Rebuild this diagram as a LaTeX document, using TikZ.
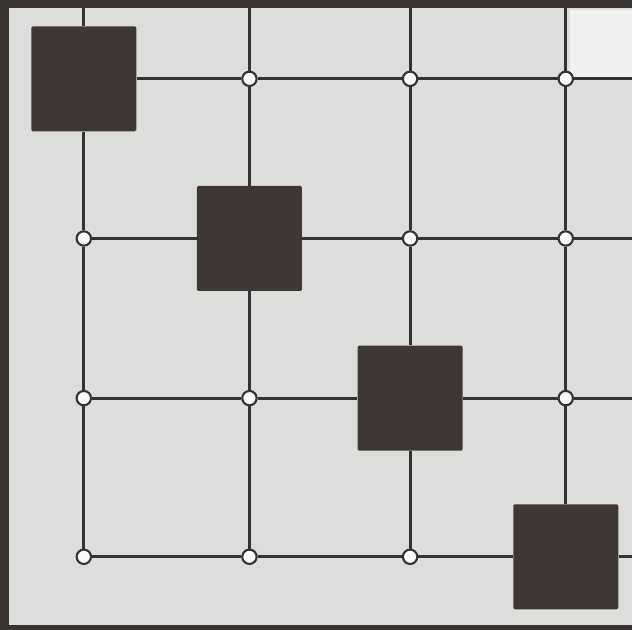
\documentclass[tikz,border=0pt]{standalone}
\definecolor{frame}{RGB}{58,52,50}
\definecolor{paper}{RGB}{221,221,219}
\definecolor{ink}{RGB}{52,50,50}
\definecolor{blockfill}{RGB}{63,55,53}
\usepackage{xcolor}
\usepackage{tikz}
\usetikzlibrary{positioning}

\begin{document}
\begin{tikzpicture}[
  x=0.025cm, y=-0.025cm,
  grid/.style={draw=ink, line width=2pt},
  blk/.style={rectangle, fill=blockfill, rounded corners=1pt, minimum size=2.63cm, inner sep=0pt},
  knot/.style={circle, draw=ink, fill=white!85!paper, line width=1.5pt, minimum size=0.36cm, inner sep=0pt}
]

% frame and paper
\fill[frame] (0,0) rectangle (633,631);
\fill[paper] (9,8) rectangle (633,626);
\fill[white!55!paper] (571,10) rectangle (633,79);

% blocks on the diagonal
\node[blk] (b1) at (84,79) {};
\node[blk] (b2) at (250,239) {};
\node[blk] (b3) at (411,399) {};
\node[blk] (b4) at (567,558) {};

% open knots
\node[knot] (k21) at (250,79) {};
\node[knot] (k31) at (411,79) {};
\node[knot] (k41) at (567,79) {};
\node[knot] (k12) at (84,239) {};
\node[knot] (k32) at (411,239) {};
\node[knot] (k42) at (567,239) {};
\node[knot] (k13) at (84,399) {};
\node[knot] (k23) at (250,399) {};
\node[knot] (k43) at (567,399) {};
\node[knot] (k14) at (84,558) {};
\node[knot] (k24) at (250,558) {};
\node[knot] (k34) at (411,558) {};

% free ends at the top and right edges
\coordinate (t1) at (84,8);
\coordinate (t2) at (250,8);
\coordinate (t3) at (411,8);
\coordinate (t4) at (567,8);
\coordinate (r1) at (633,79);
\coordinate (r2) at (633,239);
\coordinate (r3) at (633,399);
\coordinate (r4) at (633,558);

% columns
\draw[grid] (t1) -- (b1) -- (k12) -- (k13) -- (k14);
\draw[grid] (t2) -- (k21) -- (b2) -- (k23) -- (k24);
\draw[grid] (t3) -- (k31) -- (k32) -- (b3) -- (k34);
\draw[grid] (t4) -- (k41) -- (k42) -- (k43) -- (b4);

% rows
\draw[grid] (b1) -- (k21) -- (k31) -- (k41) -- (r1);
\draw[grid] (k12) -- (b2) -- (k32) -- (k42) -- (r2);
\draw[grid] (k13) -- (k23) -- (b3) -- (k43) -- (r3);
\draw[grid] (k14) -- (k24) -- (k34) -- (b4) -- (r4);

\end{tikzpicture}
\end{document}
